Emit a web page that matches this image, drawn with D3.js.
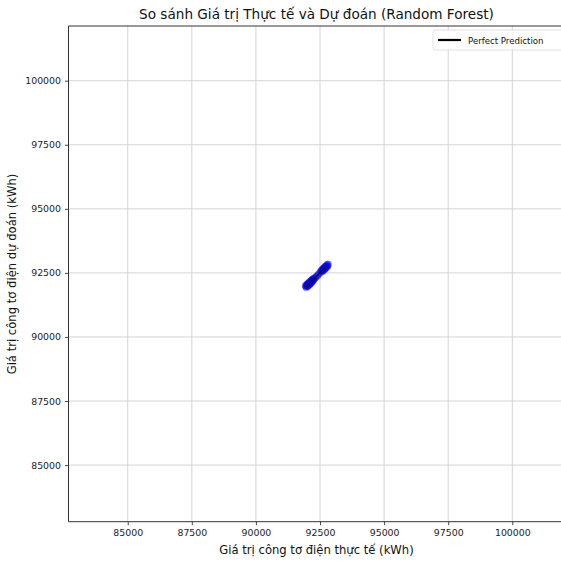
<!DOCTYPE html>
<html>
<head>
<meta charset="utf-8">
<script src="https://cdn.jsdelivr.net/npm/d3@7"></script>
<style>
  html, body { margin: 0; padding: 0; background: #fff; overflow: hidden; width: 561px; height: 561px; }
  svg { display: block; font-family: "DejaVu Sans", sans-serif; overflow: hidden; }
</style>
</head>
<body>
<svg id="chart" width="561" height="561" viewBox="0 0 561 561"></svg>
<script>
// Actual vs. predicted meter readings (kWh) from the Random Forest model
const actualValues = [
  91940, 91965, 91980, 92000, 92015, 92035, 92050, 92070, 92085, 92100,
  92120, 92140, 92155, 92175, 92190, 92210, 92230, 92250, 92280, 92330,
  92390, 92450, 92520, 92560, 92590, 92610, 92630, 92650, 92670, 92690,
  92710, 92730, 92750, 92770, 92790, 92810
];
const predictedValues = [
  91990, 91940, 92030, 91985, 92060, 92000, 92095, 92040, 92120, 92075,
  92160, 92100, 92190, 92140, 92230, 92180, 92260, 92235, 92290, 92330,
  92385, 92455, 92530, 92600, 92560, 92650, 92600, 92690, 92640, 92730,
  92680, 92760, 92725, 92800, 92760, 92830
];
const xTicks = [85000, 87500, 90000, 92500, 95000, 97500, 100000];
const yTicks = [85000, 87500, 90000, 92500, 95000, 97500, 100000];
const xLimits = [82690, 102250];
const yLimits = [82790, 102135];

const titleText = "So sánh Giá trị Thực tế và Dự đoán (Random Forest)";
const xLabelText = "Giá trị công tơ điện thực tế (kWh)";
const yLabelText = "Giá trị công tơ điện dự đoán (kWh)";
const legendText = "Perfect Prediction";

const svg = d3.select("#chart");
const W = 561;
const plot = { left: 68.5, top: 26, right: 570, bottom: 521.7 };

const x = d3.scaleLinear().domain(xLimits).range([plot.left, plot.right]);
const y = d3.scaleLinear().domain(yLimits).range([plot.bottom, plot.top]);

// everything inside the axes is clipped to the visible part of the plot
svg.append("defs").append("clipPath").attr("id", "plotClip")
  .append("rect").attr("x", 0).attr("y", 0).attr("width", W).attr("height", W);
const body = svg.append("g").attr("clip-path", "url(#plotClip)");

// grid
const grid = body.append("g");
grid.selectAll(".gx").data(xTicks).enter().append("line")
  .attr("x1", d => x(d)).attr("x2", d => x(d))
  .attr("y1", plot.top).attr("y2", plot.bottom)
  .attr("stroke", "#cfcfcf").attr("stroke-width", 0.9);
grid.selectAll(".gy").data(yTicks).enter().append("line")
  .attr("y1", d => y(d)).attr("y2", d => y(d))
  .attr("x1", plot.left).attr("x2", W)
  .attr("stroke", "#cfcfcf").attr("stroke-width", 0.9);

// scatter points
const pts = actualValues.map((a, i) => ({ a, p: predictedValues[i] }));
body.append("g").selectAll("circle").data(pts).enter().append("circle")
  .attr("cx", d => x(d.a)).attr("cy", d => y(d.p)).attr("r", 3.6)
  .attr("fill", "#0000ff").attr("fill-opacity", 0.5)
  .attr("stroke", "#0000aa").attr("stroke-opacity", 0.4).attr("stroke-width", 0.5);

// perfect prediction line over the data range
const lo = d3.min(actualValues), hi = d3.max(actualValues);
body.append("line")
  .attr("x1", x(lo)).attr("y1", y(lo)).attr("x2", x(hi)).attr("y2", y(hi))
  .attr("stroke", "#000").attr("stroke-width", 1.2);

// axes
const xAxis = d3.axisBottom(x).tickValues(xTicks).tickSize(3.5).tickPadding(4).tickFormat(d3.format("d"));
const yAxis = d3.axisLeft(y).tickValues(yTicks).tickSize(3.5).tickPadding(4).tickFormat(d3.format("d"));

const gx = svg.append("g").attr("transform", `translate(0,${plot.bottom})`).call(xAxis);
const gy = svg.append("g").attr("transform", `translate(${plot.left},0)`).call(yAxis);
[gx, gy].forEach(g => {
  g.select(".domain").remove();
  g.selectAll(".tick line").attr("stroke", "#333").attr("stroke-width", 0.9);
  g.selectAll(".tick text").attr("fill", "#222").style("font-size", "9.4px")
    .style("font-family", "DejaVu Sans, sans-serif");
});

// spines: left, top and bottom (the right one lies past the canvas edge)
const spines = [
  [plot.left, plot.top, plot.left, plot.bottom],
  [plot.left, plot.top, W, plot.top],
  [plot.left, plot.bottom, W, plot.bottom]
];
svg.append("g").selectAll("line").data(spines).enter().append("line")
  .attr("x1", d => d[0]).attr("y1", d => d[1]).attr("x2", d => d[2]).attr("y2", d => d[3])
  .attr("stroke", "#333").attr("stroke-width", 1);

// title and labels
svg.append("text").attr("x", 316.5).attr("y", 19).attr("text-anchor", "middle")
  .style("font-size", "13.6px").attr("fill", "#111").text(titleText);
svg.append("text").attr("x", 316.5).attr("y", 554).attr("text-anchor", "middle")
  .style("font-size", "11.6px").attr("fill", "#111").text(xLabelText);
svg.append("text").attr("transform", "translate(16,274) rotate(-90)").attr("text-anchor", "middle")
  .style("font-size", "11.6px").attr("fill", "#111").text(yLabelText);

// legend (box runs off the right edge)
const lg = svg.append("g");
lg.append("path")
  .attr("d", `M${W},30 H435 Q433,30 433,32 V48 Q433,50 435,50 H${W}`)
  .attr("fill", "#fff").attr("fill-opacity", 0.85)
  .attr("stroke", "#d8d8d8").attr("stroke-width", 0.8);
lg.append("line").attr("x1", 438).attr("x2", 461).attr("y1", 40).attr("y2", 40)
  .attr("stroke", "#000").attr("stroke-width", 2.2);
lg.append("text").attr("x", 468).attr("y", 43.5).style("font-size", "8.6px")
  .attr("fill", "#111").text(legendText);
</script>
</body>
</html>
